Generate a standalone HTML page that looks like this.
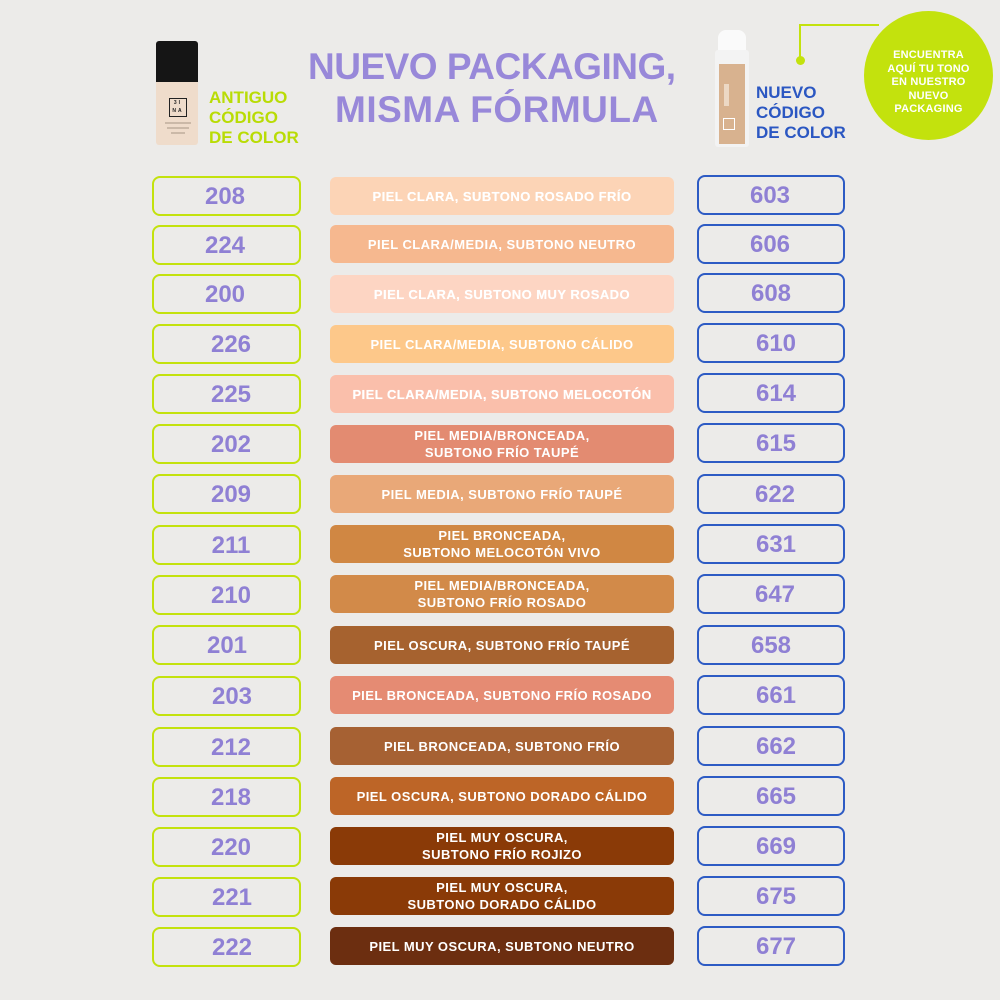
<!DOCTYPE html>
<html><head><meta charset="utf-8">
<style>
*{margin:0;padding:0;box-sizing:border-box}
html,body{width:1000px;height:1000px;overflow:hidden}
body{background:#ecebe9;position:relative;font-family:"Liberation Sans",sans-serif;font-weight:bold}
.abs{position:absolute}
.lb{position:absolute;left:152px;width:149px;height:40px;border:2.5px solid #c3e20d;border-radius:8px}
.rb{position:absolute;left:697px;width:148px;height:40px;border:2px solid #2d5bc4;border-radius:8px}
.num{position:absolute;font-size:24px;color:#8f80d4;line-height:41px;text-align:center;width:80px}
.pill{position:absolute;left:330px;width:344px;height:38px;border-radius:6px;color:#fff;font-size:13px;letter-spacing:0.45px;display:flex;align-items:center;justify-content:center;text-align:center;line-height:17px}
.title{position:absolute;color:#9888d9;font-size:37px;white-space:nowrap;line-height:40px}
.lab{position:absolute;font-size:17px;line-height:20px;white-space:nowrap}
</style></head><body>

<!-- Title -->
<div class="title" style="left:308px;top:47px;letter-spacing:-0.5px">NUEVO PACKAGING,</div>
<div class="title" style="left:335px;top:90px;letter-spacing:0.5px">MISMA FÓRMULA</div>

<!-- Left bottle -->
<div class="abs" style="left:156px;top:41px;width:42px;height:42px;background:#151515;border-radius:3px 3px 0 0"></div>
<div class="abs" style="left:156px;top:82px;width:42px;height:63px;background:#efdccb;border-radius:0 0 3px 3px"></div>
<div class="abs" style="left:169px;top:98px;width:18px;height:19px;border:1.5px solid #222;font-size:5px;color:#222;line-height:8px;text-align:center;letter-spacing:2px">3I<br>NA</div>
<div class="abs" style="left:165px;top:122px;width:26px;height:2px;background:#cbb9a8"></div>
<div class="abs" style="left:167px;top:127px;width:22px;height:2px;background:#cbb9a8"></div>
<div class="abs" style="left:171px;top:132px;width:14px;height:2px;background:#cbb9a8"></div>

<div class="lab" style="left:209px;top:88px;color:#b9dc05">ANTIGUO<br>CÓDIGO<br>DE COLOR</div>

<!-- Right bottle -->
<div class="abs" style="left:718px;top:30px;width:28px;height:24px;background:#fafafa;border-radius:8px 8px 2px 2px"></div>
<div class="abs" style="left:715px;top:50px;width:34px;height:97px;background:#f3f3f3;border-radius:3px"></div>
<div class="abs" style="left:719px;top:64px;width:26px;height:80px;background:#d8b28f"></div>
<div class="abs" style="left:723px;top:118px;width:12px;height:12px;border:1px solid #fff"></div>
<div class="abs" style="left:724px;top:84px;width:5px;height:22px;background:#ecd8c4"></div>

<div class="lab" style="left:756px;top:83px;color:#2b57c2">NUEVO<br>CÓDIGO<br>DE COLOR</div>

<!-- Green connector & circle -->
<div class="abs" style="left:799px;top:24px;width:80px;height:2px;background:#c3e20d"></div>
<div class="abs" style="left:799px;top:24px;width:2px;height:36px;background:#c3e20d"></div>
<div class="abs" style="left:796px;top:56px;width:9px;height:9px;border-radius:50%;background:#c3e20d"></div>
<div class="abs" style="left:864px;top:11px;width:129px;height:129px;border-radius:50%;background:#c3e20d"></div>
<div class="abs" style="left:864px;top:49px;width:129px;text-align:center;color:#fff;font-size:11px;line-height:13.5px;letter-spacing:0.2px">ENCUENTRA<br>AQUÍ TU TONO<br>EN NUESTRO<br>NUEVO<br>PACKAGING</div>

<!-- Rows -->
<div class="lb" style="top:176px"></div><div class="num" style="left:185px;top:176px">208</div>
<div class="pill" style="top:177px;background:#fcd4b6">PIEL CLARA, SUBTONO ROSADO FRÍO</div>
<div class="rb" style="top:175px"></div><div class="num" style="left:730px;top:175px">603</div>

<div class="lb" style="top:225px"></div><div class="num" style="left:185px;top:225px">224</div>
<div class="pill" style="top:225px;background:#f6b88f">PIEL CLARA/MEDIA, SUBTONO NEUTRO</div>
<div class="rb" style="top:224px"></div><div class="num" style="left:730px;top:224px">606</div>

<div class="lb" style="top:274px"></div><div class="num" style="left:185px;top:274px">200</div>
<div class="pill" style="top:275px;background:#fdd5c3">PIEL CLARA, SUBTONO MUY ROSADO</div>
<div class="rb" style="top:273px"></div><div class="num" style="left:731px;top:273px">608</div>

<div class="lb" style="top:324px"></div><div class="num" style="left:191px;top:324px">226</div>
<div class="pill" style="top:325px;background:#fdc88a">PIEL CLARA/MEDIA, SUBTONO CÁLIDO</div>
<div class="rb" style="top:323px"></div><div class="num" style="left:736px;top:323px">610</div>

<div class="lb" style="top:374px"></div><div class="num" style="left:191px;top:374px">225</div>
<div class="pill" style="top:375px;background:#fabfab">PIEL CLARA/MEDIA, SUBTONO MELOCOTÓN</div>
<div class="rb" style="top:373px"></div><div class="num" style="left:736px;top:373px">614</div>

<div class="lb" style="top:424px"></div><div class="num" style="left:191px;top:424px">202</div>
<div class="pill" style="top:425px;background:#e38b71">PIEL MEDIA/BRONCEADA,<br>SUBTONO FRÍO TAUPÉ</div>
<div class="rb" style="top:423px"></div><div class="num" style="left:736px;top:423px">615</div>

<div class="lb" style="top:474px"></div><div class="num" style="left:191px;top:474px">209</div>
<div class="pill" style="top:475px;background:#e9a878">PIEL MEDIA, SUBTONO FRÍO TAUPÉ</div>
<div class="rb" style="top:474px"></div><div class="num" style="left:735px;top:474px">622</div>

<div class="lb" style="top:525px"></div><div class="num" style="left:191px;top:525px">211</div>
<div class="pill" style="top:525px;background:#d08743">PIEL BRONCEADA,<br>SUBTONO MELOCOTÓN VIVO</div>
<div class="rb" style="top:524px"></div><div class="num" style="left:736px;top:524px">631</div>

<div class="lb" style="top:575px"></div><div class="num" style="left:191px;top:575px">210</div>
<div class="pill" style="top:575px;background:#d28a49">PIEL MEDIA/BRONCEADA,<br>SUBTONO FRÍO ROSADO</div>
<div class="rb" style="top:574px"></div><div class="num" style="left:735px;top:574px">647</div>

<div class="lb" style="top:625px"></div><div class="num" style="left:187px;top:625px">201</div>
<div class="pill" style="top:626px;background:#a6622f">PIEL OSCURA, SUBTONO FRÍO TAUPÉ</div>
<div class="rb" style="top:625px"></div><div class="num" style="left:731px;top:625px">658</div>

<div class="lb" style="top:676px"></div><div class="num" style="left:192px;top:676px">203</div>
<div class="pill" style="top:676px;background:#e58b73">PIEL BRONCEADA, SUBTONO FRÍO ROSADO</div>
<div class="rb" style="top:675px"></div><div class="num" style="left:736px;top:675px">661</div>

<div class="lb" style="top:727px"></div><div class="num" style="left:191px;top:727px">212</div>
<div class="pill" style="top:727px;background:#a66133">PIEL BRONCEADA, SUBTONO FRÍO</div>
<div class="rb" style="top:726px"></div><div class="num" style="left:736px;top:726px">662</div>

<div class="lb" style="top:777px"></div><div class="num" style="left:191px;top:777px">218</div>
<div class="pill" style="top:777px;background:#bd6527">PIEL OSCURA, SUBTONO DORADO CÁLIDO</div>
<div class="rb" style="top:776px"></div><div class="num" style="left:736px;top:776px">665</div>

<div class="lb" style="top:827px"></div><div class="num" style="left:191px;top:827px">220</div>
<div class="pill" style="top:827px;background:#8a3a07">PIEL MUY OSCURA,<br>SUBTONO FRÍO ROJIZO</div>
<div class="rb" style="top:826px"></div><div class="num" style="left:736px;top:826px">669</div>

<div class="lb" style="top:877px"></div><div class="num" style="left:192px;top:877px">221</div>
<div class="pill" style="top:877px;background:#8a3a07">PIEL MUY OSCURA,<br>SUBTONO DORADO CÁLIDO</div>
<div class="rb" style="top:876px"></div><div class="num" style="left:736px;top:876px">675</div>

<div class="lb" style="top:927px"></div><div class="num" style="left:192px;top:927px">222</div>
<div class="pill" style="top:927px;background:#6c2e10">PIEL MUY OSCURA, SUBTONO NEUTRO</div>
<div class="rb" style="top:926px"></div><div class="num" style="left:736px;top:926px">677</div>

<style>
.pill[style*="#fcd4b6"],.pill[style*="#fdd5c3"],.pill[style*="#fabfab"]{text-shadow:0 0 0.5px #fff}
</style>
</body></html>
